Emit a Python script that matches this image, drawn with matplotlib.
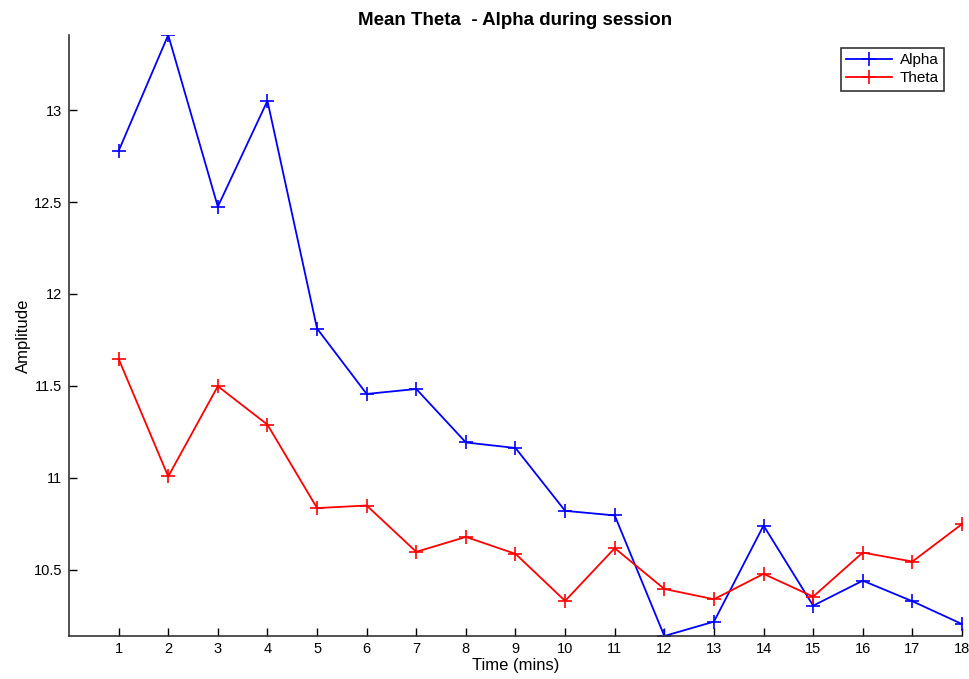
import matplotlib
matplotlib.use("Agg")
import matplotlib.pyplot as plt

time_mins = list(range(1, 19))
alpha = [12.778, 13.409, 12.475, 13.051, 11.812, 11.456, 11.483, 11.192, 11.162,
         10.820, 10.795, 10.139, 10.217, 10.740, 10.304, 10.440, 10.328, 10.204]
theta = [11.647, 11.007, 11.498, 11.289, 10.835, 10.849, 10.597, 10.678, 10.586,
         10.330, 10.617, 10.395, 10.339, 10.477, 10.353, 10.593, 10.544, 10.748]
yticks = [10.5, 11, 11.5, 12, 12.5, 13]
ytick_labels = ["10.5", "11", "11.5", "12", "12.5", "13"]

plt.rcParams['font.family'] = ['Liberation Sans', 'DejaVu Sans']

fig = plt.figure(figsize=(9.7, 6.79), dpi=100)
ax = fig.add_axes([69/970, 1-636/679, 893/970, 601/679])

ax.plot(time_mins, alpha, color='#0000ff', marker='+', markersize=10, markeredgewidth=1.2,
        linewidth=1.3, label='Alpha')
ax.plot(time_mins, theta, color='#ff0000', marker='+', markersize=10, markeredgewidth=1.2,
        linewidth=1.3, label='Theta')

ax.set_xlim(0, 18)
ax.set_ylim(min(alpha + theta), max(alpha + theta))
ax.set_xticks(time_mins)
ax.set_yticks(yticks)
ax.set_yticklabels(ytick_labels)
ax.tick_params(direction='in', length=6, width=1, labelsize=10.5, colors='black')
ax.tick_params(axis='x', pad=4)
ax.tick_params(axis='y', pad=5)
for s in ['top', 'right']:
    ax.spines[s].set_visible(False)
for s in ['left', 'bottom']:
    ax.spines[s].set_linewidth(1.2)
    ax.spines[s].set_color('#333333')

ax.set_title('Mean Theta  - Alpha during session', fontsize=13.5, fontweight='bold', pad=7)
ax.set_xlabel('Time (mins)', fontsize=12)
ax.set_ylabel('Amplitude', fontsize=12)
ax.xaxis.set_label_coords(0.5, -0.036)
ax.yaxis.set_label_coords(-0.043, 0.5)

leg = ax.legend(loc='upper right', bbox_to_anchor=(944/970, 1-48/679), bbox_transform=fig.transFigure,
                fontsize=11, frameon=True, fancybox=False, edgecolor='black',
                handlelength=3.0, borderpad=0.35, labelspacing=0.25, handletextpad=0.5,
                borderaxespad=0)
leg.get_frame().set_linewidth(1.2)

fig.savefig('out.png', dpi=100)
